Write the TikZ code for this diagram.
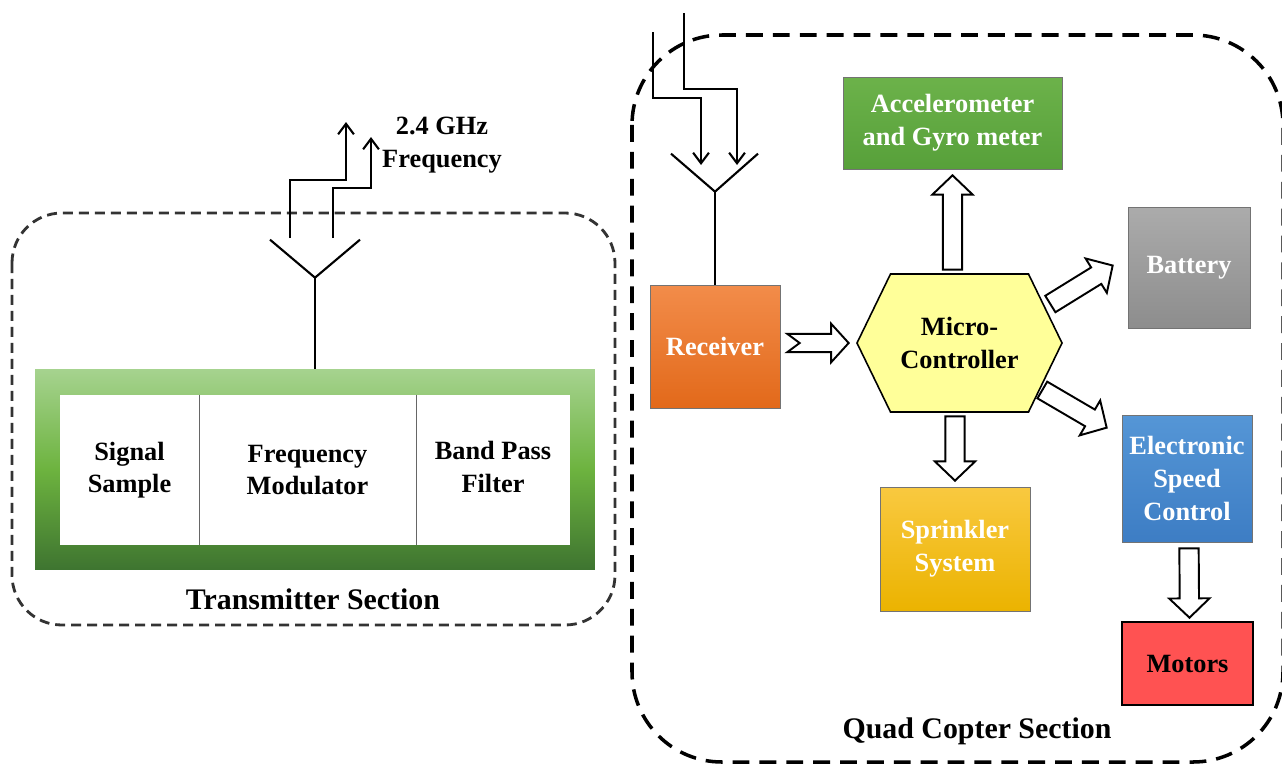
\documentclass[tikz,border=0pt]{standalone}
\usepackage{fontspec}
\setmainfont{Liberation Serif}
\usetikzlibrary{arrows.meta,calc}

\definecolor{txlight}{HTML}{A6D38F}
\definecolor{txmid}{HTML}{6DB33F}
\definecolor{txdark}{HTML}{3E7430}
\definecolor{acctop}{HTML}{6CB24A}
\definecolor{accbot}{HTML}{57A03A}
\definecolor{battop}{HTML}{ABABAB}
\definecolor{batbot}{HTML}{8D8D8D}
\definecolor{rectop}{HTML}{F28C4A}
\definecolor{recbot}{HTML}{E2691A}
\definecolor{esctop}{HTML}{5596D6}
\definecolor{escbot}{HTML}{3D7DC4}
\definecolor{sprtop}{HTML}{F9C940}
\definecolor{sprbot}{HTML}{EBB300}
\definecolor{motred}{HTML}{FF5252}
\definecolor{mcuyellow}{HTML}{FFFF99}

% hollow block arrow between two named coordinates
\newcommand{\blockarrow}[2]{%
  \coordinate (hb) at ($(#2)!11pt!(#1)$);
  \draw[blk] ($(#1)!5.5pt!90:(#2)$) -- ($(hb)!5.5pt!90:(#2)$) -- ($(hb)!11.5pt!90:(#2)$) -- (#2)
    -- ($(hb)!11.5pt!-90:(#2)$) -- ($(hb)!5.5pt!-90:(#2)$) -- ($(#1)!5.5pt!-90:(#2)$) -- cycle;}
\newcommand{\notcharrow}[2]{%
  \coordinate (hb) at ($(#2)!10pt!(#1)$);
  \draw[blk] ($(#1)!5.2pt!90:(#2)$) -- ($(hb)!5.2pt!90:(#2)$) -- ($(hb)!11pt!90:(#2)$) -- (#2)
    -- ($(hb)!11pt!-90:(#2)$) -- ($(hb)!5.2pt!-90:(#2)$) -- ($(#1)!5.2pt!-90:(#2)$)
    -- ($(#1)!7pt!(#2)$) -- cycle;}

\begin{document}
\begin{tikzpicture}[x=0.02cm,y=-0.02cm,
  lbl/.style={font=\fontsize{15}{18.6}\selectfont\bfseries,align=center},
  box/.style={lbl,draw=black!55,thin,inner sep=0pt,text=white},
  blk/.style={draw=black,fill=white,line width=1.1pt,line join=miter},
  ant/.style={line width=1.2pt},
  sig/.style={ant,-{Straight Barb[length=6pt,width=9pt]}},
  sect/.style={font=\fontsize{17}{20}\selectfont\bfseries}]

\useasboundingbox (0,0) rectangle (1282,765);
\clip (0,0) rectangle (1282,765);

% section frames
\draw[black!80,line width=1.6pt,dash pattern=on 5.7pt off 3.4pt,rounded corners=1cm]
  (12,213) rectangle (615,625);
\draw[line width=2pt,dash pattern=on 9.6pt off 5.7pt,rounded corners=1.8cm]
  (632,35) rectangle (1283,762);
\node[sect] (txlbl) at (313,599) {Transmitter Section};
\node[sect] (qclbl) at (977,731) {Quad Copter Section};

% transmitter
\node[top color=txlight,bottom color=txdark,middle color=txmid,minimum width=11.2cm,
  minimum height=4.02cm,inner sep=0pt] (tx) at (315,469.5) {};
\node[fill=white,minimum width=10.2cm,minimum height=3cm,inner sep=0pt] (txin) at (315,470) {};
\begin{scope}[every node/.style={lbl,inner sep=0pt,minimum height=3cm}]
\node[minimum width=2.78cm] (smp) at (129.5,470) {Signal\\Sample};
\node[minimum width=4.34cm] (fm) at (307.5,470) {Frequency\\Modulator};
\node[minimum width=3.08cm] (bpf) at (493,467) {Band Pass\\Filter};
\end{scope}
\draw[black!60,thin] (smp.north east) -- (smp.south east);
\draw[black!60,thin] (fm.north east) -- (fm.south east);

\coordinate (txv) at ($(tx.north)+(0,-91)$);
\draw[ant] (tx.north) -- (txv);
\draw[ant] ($(txv)+(-45,-38)$) -- (txv) -- ($(txv)+(45,-38)$);
\draw[sig] (290,238) -- (290,180) -- (346,180) -- (346,122);
\draw[sig] (333,238) -- (333,188) -- (371,188) -- (371,137);
\node[lbl] (freq) at (442,145) {2.4 GHz\\Frequency};

% quad copter
\node[box,top color=rectop,bottom color=recbot,minimum width=2.6cm,minimum height=2.46cm]
  (rec) at (715,346.5) {Receiver};
\node[box,top color=acctop,bottom color=accbot,minimum width=4.38cm,minimum height=1.84cm]
  (acc) at (952.5,123) {Accelerometer\\and Gyro meter};
\node[box,top color=battop,bottom color=batbot,minimum width=2.44cm,minimum height=2.42cm]
  (bat) at (1189,267.5) {Battery};
\node[box,top color=esctop,bottom color=escbot,minimum width=2.6cm,minimum height=2.54cm]
  (esc) at (1187,478.5) {Electronic\\Speed\\Control};
\node[box,top color=sprtop,bottom color=sprbot,minimum width=3cm,minimum height=2.48cm]
  (spr) at (955,549) {Sprinkler\\System};
\node[box,fill=motred,draw=black,line width=1.5pt,text=black,minimum width=2.62cm,
  minimum height=1.66cm] (mot) at (1187.5,663.5) {Motors};

\coordinate (mc) at (959.5,343);
\draw[fill=mcuyellow,line width=0.9pt] ($(mc)+(-102.5,0)$) -- ($(mc)+(-69,-69)$) -- ($(mc)+(69,-69)$)
  -- ($(mc)+(102.5,0)$) -- ($(mc)+(69,69)$) -- ($(mc)+(-69,69)$) -- cycle;
\node[lbl,inner sep=0pt,minimum width=4.1cm,minimum height=2.76cm] (mcu) at (mc) {Micro-\\Controller};

\coordinate (rxv) at ($(rec.north)+(0,-93)$);
\draw[ant] (rec.north) -- (rxv);
\draw[ant] ($(rxv)+(-44,-38)$) -- (rxv) -- ($(rxv)+(43,-38)$);
\draw[sig] (653,32) -- (653,98) -- (701,98) -- (701,165);
\draw[sig] (684,13) -- (684,89) -- (737,89) -- (737,165);

% block arrows
\coordinate (r1) at ($(rec.east |- mc)+(7,0)$);
\coordinate (r2) at ($(mcu.west)+(-8,0)$);
\coordinate (a1) at ($(acc.south |- mcu.north)+(0,-4)$);
\coordinate (a2) at ($(acc.south)+(0,6)$);
\coordinate (s1) at ($(spr.north |- mcu.south)+(0,4)$);
\coordinate (s2) at ($(spr.north)+(0,-6)$);
\coordinate (b1) at ($(mcu.east)+(-12,-39)$);
\coordinate (b2) at ($(bat.west)+(-15,-2)$);
\coordinate (e1) at ($(mcu.east)+(-20,47)$);
\coordinate (e2) at ($(esc.north west)+(-15,13)$);
\coordinate (m1) at ($(esc.south)+(2,6)$);
\coordinate (m2) at ($(mot.north)+(2,-3)$);
\notcharrow{r1}{r2}
\blockarrow{a1}{a2}
\blockarrow{s1}{s2}
\blockarrow{b1}{b2}
\blockarrow{e1}{e2}
\blockarrow{m1}{m2}
\end{tikzpicture}
\end{document}
